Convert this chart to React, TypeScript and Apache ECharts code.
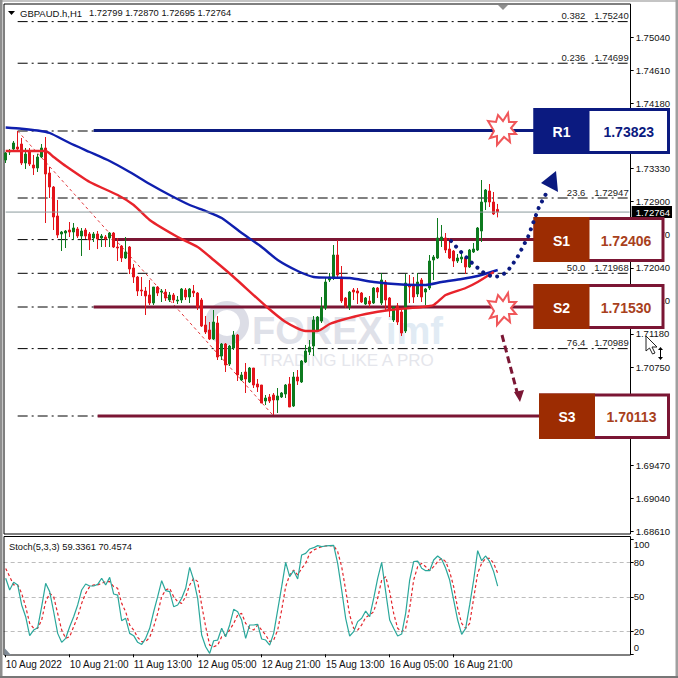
import { useEffect, useRef } from 'react';
import * as echarts from 'echarts';

/* ───── Data ───── */
const opens = [
  1.73441, 1.73545, 1.73584, 1.73610, 1.73649, 1.73402, 1.73545, 1.73376, 1.73337, 1.73480, 1.73597, 1.73272, 1.73090, 1.72713, 1.72479, 1.72492,
  1.72531, 1.72505, 1.72544, 1.72453, 1.72531, 1.72479, 1.72427, 1.72479, 1.72427, 1.72440, 1.72427, 1.72492, 1.72310, 1.72323, 1.72167, 1.72310,
  1.72037, 1.71920, 1.71751, 1.71738, 1.71686, 1.71582, 1.71790, 1.71725, 1.71725, 1.71621, 1.71686, 1.71608, 1.71621, 1.71751, 1.71660, 1.71738,
  1.71712, 1.71621, 1.71296, 1.71231, 1.71114, 1.71322, 1.70893, 1.71049, 1.70789, 1.70997, 1.71166, 1.70581, 1.70685, 1.70555, 1.70737, 1.70529,
  1.70516, 1.70308, 1.70360, 1.70386, 1.70321, 1.70360, 1.70399, 1.70529, 1.70243, 1.70620, 1.70555, 1.70815, 1.70945, 1.71023, 1.71218, 1.71348,
  1.71517, 1.71881, 1.71907, 1.72206, 1.71920, 1.71647, 1.71530, 1.71751, 1.71738, 1.71712, 1.71569, 1.71608, 1.71582, 1.71777, 1.71582, 1.71855,
  1.71647, 1.71361, 1.71543, 1.71465, 1.71218, 1.71816, 1.71816, 1.71699, 1.71881, 1.71725, 1.71777, 1.72141, 1.72167, 1.72401, 1.72427, 1.72284,
  1.72258, 1.72128, 1.72154, 1.72167, 1.72050, 1.72245, 1.72271, 1.72518, 1.72895, 1.73038, 1.72895, 1.72799,
];
const highs = [
  1.73545, 1.73584, 1.73688, 1.73818, 1.73727, 1.73597, 1.73597, 1.73506, 1.73519, 1.73649, 1.73740, 1.73350, 1.73103, 1.72921, 1.72518, 1.72531,
  1.72635, 1.72622, 1.72570, 1.72557, 1.72557, 1.72505, 1.72505, 1.72518, 1.72479, 1.72466, 1.72505, 1.72505, 1.72427, 1.72336, 1.72440, 1.72323,
  1.72089, 1.71933, 1.71920, 1.71790, 1.71881, 1.71790, 1.71803, 1.71764, 1.71764, 1.71725, 1.71712, 1.71673, 1.71777, 1.71777, 1.71777, 1.71816,
  1.71725, 1.71647, 1.71413, 1.71335, 1.71491, 1.71413, 1.71062, 1.71062, 1.71036, 1.71218, 1.71179, 1.70685, 1.70802, 1.70750, 1.70737, 1.70594,
  1.70516, 1.70386, 1.70399, 1.70412, 1.70477, 1.70425, 1.70529, 1.70620, 1.70685, 1.70711, 1.70841, 1.71036, 1.71101, 1.71413, 1.71413, 1.71660,
  1.71907, 1.71972, 1.72336, 1.72401, 1.72063, 1.71660, 1.71738, 1.71777, 1.71777, 1.71725, 1.71660, 1.71673, 1.71790, 1.71790, 1.71972, 1.71881,
  1.71660, 1.71543, 1.71582, 1.71491, 1.71959, 1.71946, 1.71920, 1.71972, 1.71907, 1.71777, 1.72206, 1.72206, 1.72687, 1.72596, 1.72492, 1.72427,
  1.72271, 1.72219, 1.72232, 1.72193, 1.72284, 1.72362, 1.72570, 1.73181, 1.73064, 1.73129, 1.73025, 1.72870,
];
const lows = [
  1.73402, 1.73506, 1.73558, 1.73558, 1.73376, 1.73324, 1.73363, 1.73246, 1.73285, 1.73467, 1.72622, 1.72947, 1.72531, 1.72427, 1.72258, 1.72297,
  1.72440, 1.72401, 1.72427, 1.72193, 1.72414, 1.72271, 1.72375, 1.72284, 1.72310, 1.72310, 1.72310, 1.72297, 1.72128, 1.72115, 1.72154, 1.71959,
  1.71842, 1.71673, 1.71673, 1.71426, 1.71556, 1.71556, 1.71673, 1.71595, 1.71608, 1.71595, 1.71582, 1.71569, 1.71582, 1.71621, 1.71582, 1.71660,
  1.71491, 1.71270, 1.71179, 1.71101, 1.71101, 1.70841, 1.70841, 1.70685, 1.70763, 1.70971, 1.70568, 1.70568, 1.70412, 1.70542, 1.70477, 1.70425,
  1.70282, 1.70256, 1.70282, 1.70126, 1.70152, 1.70347, 1.70347, 1.70230, 1.70230, 1.70516, 1.70542, 1.70802, 1.70906, 1.70893, 1.71205, 1.71322,
  1.71491, 1.71855, 1.71881, 1.71907, 1.71582, 1.71517, 1.71491, 1.71621, 1.71569, 1.71582, 1.71556, 1.71530, 1.71569, 1.71647, 1.71556, 1.71491,
  1.71400, 1.71335, 1.71296, 1.71153, 1.71192, 1.71582, 1.71582, 1.71660, 1.71595, 1.71556, 1.71751, 1.71881, 1.72154, 1.72310, 1.72232, 1.72154,
  1.72050, 1.72102, 1.72102, 1.71959, 1.72037, 1.72232, 1.72258, 1.72375, 1.72791, 1.72830, 1.72726, 1.72695,
];
const closes = [
  1.73532, 1.73558, 1.73662, 1.73584, 1.73402, 1.73519, 1.73389, 1.73337, 1.73480, 1.73597, 1.73259, 1.73090, 1.72700, 1.72466, 1.72505, 1.72518,
  1.72505, 1.72557, 1.72453, 1.72518, 1.72453, 1.72401, 1.72479, 1.72414, 1.72453, 1.72414, 1.72492, 1.72310, 1.72297, 1.72167, 1.72245, 1.72024,
  1.71920, 1.71738, 1.71738, 1.71673, 1.71582, 1.71790, 1.71712, 1.71738, 1.71647, 1.71686, 1.71621, 1.71621, 1.71764, 1.71660, 1.71764, 1.71712,
  1.71530, 1.71283, 1.71205, 1.71114, 1.71335, 1.70880, 1.71049, 1.70776, 1.71023, 1.71166, 1.70646, 1.70646, 1.70594, 1.70737, 1.70516, 1.70490,
  1.70282, 1.70347, 1.70308, 1.70321, 1.70373, 1.70412, 1.70516, 1.70230, 1.70620, 1.70568, 1.70828, 1.70958, 1.71010, 1.71361, 1.71400, 1.71530,
  1.71855, 1.71920, 1.72206, 1.71946, 1.71608, 1.71543, 1.71725, 1.71725, 1.71712, 1.71595, 1.71647, 1.71569, 1.71777, 1.71725, 1.71881, 1.71621,
  1.71491, 1.71530, 1.71335, 1.71192, 1.71842, 1.71790, 1.71660, 1.71855, 1.71660, 1.71764, 1.72128, 1.72180, 1.72427, 1.72440, 1.72271, 1.72167,
  1.72128, 1.72167, 1.72180, 1.72050, 1.72271, 1.72284, 1.72557, 1.72895, 1.73051, 1.72895, 1.72739, 1.72764,
];

// moving averages as bar index + price
const blueMaIdx = [0, 4, 8, 11, 16, 21, 26, 31, 36, 41, 46, 50, 54, 59, 64, 68, 73, 77, 82, 86, 92, 99, 105, 109, 114, 118, 123];
const blueMa = [1.73863, 1.73848, 1.73824, 1.73792, 1.73662, 1.73545, 1.73428, 1.73285, 1.73129, 1.72986, 1.72856, 1.72778, 1.72687, 1.72492, 1.72310, 1.72141, 1.71998, 1.71920, 1.71911, 1.71907, 1.71855, 1.71822, 1.71816, 1.71855, 1.71894, 1.71933, 1.72011];
const redMaIdx = [0, 10, 12, 15, 21, 28, 32, 36, 43, 48, 52, 57, 65, 70, 75, 78, 81, 84, 90, 96, 104, 107, 110, 115, 118, 122];
const redMa = [1.73558, 1.73558, 1.73480, 1.73363, 1.73155, 1.72986, 1.72856, 1.72661, 1.72440, 1.72310, 1.72141, 1.71920, 1.71543, 1.71335, 1.71218, 1.71218, 1.71309, 1.71361, 1.71439, 1.71491, 1.71530, 1.71556, 1.71686, 1.71777, 1.71855, 1.71985];

const stochMain = [
  66.1, 55.9, 62.6, 60.3, 42.9, 32.7, 16.2, 21.1, 23.1, 41.4, 61.7, 54.5, 37.0, 18.2, 10.4, 13.9,
  24.0, 32.7, 42.9, 55.9, 61.1, 59.4, 59.4, 60.8, 66.1, 60.3, 66.9, 52.4, 51.5, 29.2, 31.3, 18.2,
  16.2, 10.4, 8.6, 13.9, 22.6, 37.0, 50.1, 64.0, 55.3, 54.5, 41.4, 42.9, 48.7, 57.4, 75.6, 64.6,
  48.7, 16.8, 6.6, 0.8, 11.8, 12.4, 22.6, 15.3, 25.5, 39.1, 37.0, 29.8, 13.9, 25.5, 25.5, 26.0,
  13.3, 12.4, 8.0, 18.2, 38.5, 58.8, 80.0, 67.5, 72.7, 65.5, 86.4, 87.8, 91.6, 92.7, 94.5, 93.6,
  94.2, 94.5, 94.8, 79.1, 55.9, 31.3, 15.9, 19.7, 28.4, 31.3, 37.6, 32.7, 48.7, 66.1, 80.0, 54.5,
  29.8, 22.6, 15.9, 17.6, 35.6, 64.6, 80.6, 81.1, 74.8, 72.7, 72.7, 82.0, 85.5, 82.6, 74.8, 64.6,
  47.2, 29.8, 17.3, 22.6, 42.9, 64.6, 90.1, 81.4, 85.5, 80.6, 71.9, 59.3,
];
const stochSignal = [
  74.7, 67.5, 60.3, 60.3, 53.0, 41.4, 26.9, 22.6, 22.6, 29.8, 45.8, 53.0, 50.1, 35.6, 21.1, 13.9,
  15.3, 24.0, 32.7, 44.3, 53.0, 58.8, 60.3, 60.3, 61.7, 63.2, 63.2, 58.8, 57.4, 44.3, 37.0, 25.5,
  21.1, 14.7, 11.0, 11.0, 14.7, 24.0, 35.6, 50.1, 55.9, 57.4, 50.1, 45.8, 44.3, 50.1, 60.3, 66.1,
  63.2, 42.9, 24.0, 8.0, 6.6, 8.0, 15.3, 16.8, 21.1, 26.9, 34.2, 35.6, 26.9, 22.6, 21.1, 25.5,
  21.1, 16.8, 11.0, 12.4, 21.1, 38.5, 58.8, 69.0, 73.3, 69.0, 74.7, 79.1, 87.8, 90.7, 92.2, 93.6,
  94.2, 94.2, 94.5, 89.3, 76.2, 55.9, 34.2, 22.6, 21.1, 25.5, 32.1, 34.2, 37.0, 48.7, 64.6, 67.5,
  54.5, 35.6, 22.6, 19.7, 22.6, 40.0, 64.6, 76.2, 79.1, 76.2, 72.7, 76.2, 80.6, 83.5, 80.6, 71.9,
  58.8, 40.0, 26.9, 22.6, 26.9, 48.7, 70.4, 79.1, 83.5, 83.5, 79.1, 70.5,
];

const timeLabels = ['10 Aug 2022', '10 Aug 21:00', '11 Aug 13:00', '12 Aug 05:00', '12 Aug 21:00', '15 Aug 13:00', '16 Aug 05:00', '16 Aug 21:00'];
const priceTicks = [1.7504, 1.7461, 1.7418, 1.7333, 1.729, 1.7247, 1.7204, 1.7161, 1.7118, 1.7075, 1.6947, 1.6904, 1.6861];
const stochTicks = [0, 20, 50, 80, 100];

const fibLevels = [1.7524, 1.74699, 1.73818, 1.72947, 1.72406, 1.71968, 1.7153, 1.70989, 1.70113];
const fibNames = ['0.382', '0.236', '', '23.6', '', '50.0', '', '76.4', ''];

const levelNames = ['R1', 'S1', 'S2', 'S3'];
const levelPrices = [1.73823, 1.72406, 1.7153, 1.70113];
const levelStart = [22, 27, 22, 23];

const lastPrice = 1.72764;
const SLOTS = 157;

const FONT = '"Liberation Sans", Arial, sans-serif';
const NAVY = '#0b1a80';
const MAROON = '#7b1634';
const BROWN = '#9c2c02';

/* ───── Drawn annotations on top of the chart ───── */
function box(x: number, y: number, w: number, h: number, split: number, fill: string, edge: string, textCol: string, label: string, price: number) {
  return [
    { type: 'rect', z: 100, shape: { x: x + 1.5, y: y + 1.5, width: w - 3, height: h - 3 }, style: { fill: '#fff', stroke: edge, lineWidth: 3 } },
    { type: 'rect', z: 101, shape: { x, y, width: split, height: h }, style: { fill } },
    { type: 'text', z: 102, style: { text: label, x: x + split / 2, y: y + h / 2 + 1, fill: '#fff', font: `bold 14px ${FONT}`, textAlign: 'center', textVerticalAlign: 'middle' } },
    { type: 'text', z: 102, style: { text: price.toFixed(5), x: x + split + (w - split) / 2 - 1, y: y + h / 2 + 1, fill: textCol, font: `bold 14px ${FONT}`, textAlign: 'center', textVerticalAlign: 'middle' } },
  ];
}

const burstPoints = [[-14, -8], [-6, -7], [-4, -14], [1, -8], [6, -16], [7, -7], [14, -7], [9, -1], [14, 5], [7, 5], [8, 13], [2, 8], [-5, 16], [-5, 7], [-12, 9], [-8, 2]];
function burst(x: number, y: number) {
  return { type: 'polygon', z: 103, x, y, shape: { points: burstPoints }, style: { fill: '#fff', stroke: '#f0575a', lineWidth: 2, lineJoin: 'miter' } };
}

function buildGraphic() {
  return [
    // window chrome and panel frames
    { type: 'rect', z: 0, shape: { x: 0, y: 0, width: 678, height: 2 }, style: { fill: '#c4c4c4' } },
    { type: 'rect', z: 0, shape: { x: 0, y: 0, width: 2.5, height: 678 }, style: { fill: '#8e8e8e' } },
    { type: 'rect', z: 0, shape: { x: 675.5, y: 0, width: 2.5, height: 678 }, style: { fill: '#a0a0a0' } },
    { type: 'rect', z: 0, shape: { x: 0, y: 676, width: 678, height: 2 }, style: { fill: '#777' } },
    { type: 'rect', z: 1, shape: { x: 4, y: 4, width: 626.5, height: 530 }, style: { fill: 'none', stroke: '#000', lineWidth: 1 } },
    { type: 'rect', z: 1, shape: { x: 4, y: 536.5, width: 626.5, height: 118.5 }, style: { fill: 'none', stroke: '#000', lineWidth: 1 } },

    // watermark
    { type: 'ring', z: 0, shape: { cx: 227, cy: 323, r: 22, r0: 13 }, style: { fill: '#dcdde6' } },
    { type: 'text', z: 0, style: { text: 'FOREX', x: 252, y: 331, fill: '#dfe1e9', font: `bold 38px ${FONT}`, textAlign: 'left', textVerticalAlign: 'middle' } },
    { type: 'text', z: 0, style: { text: 'imf', x: 386, y: 331, fill: '#e1ebf4', font: `bold 38px ${FONT}`, textAlign: 'left', textVerticalAlign: 'middle' } },
    { type: 'text', z: 0, style: { text: 'TRADING LIKE A PRO', x: 260, y: 360, fill: '#e5e6ec', font: `17px ${FONT}`, textAlign: 'left', textVerticalAlign: 'middle' } },

    // title row
    { type: 'polygon', z: 90, shape: { points: [[8, 11], [15, 11], [11.5, 15]] }, style: { fill: '#000' } },
    { type: 'text', z: 90, style: { text: 'GBPAUD.h,H1', x: 20, y: 13, fill: '#111', font: `9.5px ${FONT}`, textAlign: 'left', textVerticalAlign: 'middle' } },
    { type: 'text', z: 90, style: { text: '1.72799 1.72870 1.72695 1.72764', x: 89, y: 13, fill: '#111', font: `9.3px ${FONT}`, textAlign: 'left', textVerticalAlign: 'middle' } },
    { type: 'text', z: 90, style: { text: 'Stoch(5,3,3) 59.3361 70.4574', x: 9, y: 547, fill: '#111', font: `9.3px ${FONT}`, textAlign: 'left', textVerticalAlign: 'middle' } },
    { type: 'polygon', z: 90, shape: { points: [[498, 5], [508, 5], [503, 10]] }, style: { fill: '#8f8f8f' } },
    { type: 'polygon', z: 90, shape: { points: [[4.5, 648], [4.5, 655], [11, 655]] }, style: { fill: '#7f8a96' } },

    // level boxes
    ...box(533.5, 108, 136.5, 46, 56, NAVY, NAVY, NAVY, levelNames[0], levelPrices[0]),
    ...box(533.5, 217, 131, 45, 56, BROWN, MAROON, '#a8401c', levelNames[1], levelPrices[1]),
    ...box(533.5, 284, 131, 45, 56, BROWN, MAROON, '#a8401c', levelNames[2], levelPrices[2]),
    ...box(539, 393.5, 131, 45.5, 56, BROWN, MAROON, '#a8401c', levelNames[3], levelPrices[3]),

    burst(502, 129),
    burst(502, 309),

    // dotted blue arrow
    { type: 'polyline', z: 104, shape: { points: [[451, 241], [462, 253], [473, 264], [484, 273], [493, 277], [500, 276], [507, 272], [517, 258], [528, 237], [539, 207], [547, 192]] }, style: { fill: 'none', stroke: NAVY, lineWidth: 4, lineCap: 'round', lineDash: [0.01, 7.5] } },
    { type: 'polygon', z: 104, shape: { points: [[556, 171], [541, 183], [558, 192]] }, style: { fill: NAVY } },

    // dashed maroon arrow
    { type: 'line', z: 104, shape: { x1: 502, y1: 335, x2: 517, y2: 392 }, style: { stroke: MAROON, lineWidth: 3, lineDash: [7, 4] } },
    { type: 'polygon', z: 104, shape: { points: [[514, 392], [524, 390], [520, 402]] }, style: { fill: MAROON } },

    // mouse pointer left in the screenshot
    { type: 'polygon', z: 110, shape: { points: [[646, 336], [646, 351], [649.5, 348], [652.5, 354], [655, 353], [652, 347], [657, 347]] }, style: { fill: '#fff', stroke: '#222', lineWidth: 1 } },
    { type: 'line', z: 110, shape: { x1: 660.5, y1: 349, x2: 660.5, y2: 358 }, style: { stroke: '#000', lineWidth: 1 } },
    { type: 'polygon', z: 110, shape: { points: [[658, 350], [663, 350], [660.5, 347]] }, style: { fill: '#000' } },
    { type: 'polygon', z: 110, shape: { points: [[658, 357], [663, 357], [660.5, 360]] }, style: { fill: '#000' } },
  ];
}

export default function App() {
  const ref = useRef<HTMLDivElement>(null);

  useEffect(() => {
    if (!ref.current) return;
    const chart = echarts.init(ref.current, undefined, { renderer: 'svg' });
    const cats = Array.from({ length: SLOTS }, (_, i) => String(i));
    const candles = opens.map((o, i) => [o, closes[i], lows[i], highs[i]]);
    const atLabel = (i: number) => i % 16 === 0 && i / 16 < timeLabels.length;

    // symbolSize 0 instead of symbol none, so that the point labels still draw
    const fibSeries = fibLevels.map((p, k) => ({
      type: 'line', xAxisIndex: 0, yAxisIndex: 0, silent: true, symbol: 'circle', symbolSize: 0, showSymbol: true, z: 2,
      lineStyle: { color: '#000', width: 1, type: [10, 4, 2, 4] },
      data: [
        [3, p],
        fibNames[k]
          ? { value: [156, p], label: {
              show: true, position: 'top', align: 'right', distance: 1,
              formatter: `{a|${fibNames[k]}}{b|${p.toFixed(5)}}`,
              rich: {
                a: { fontFamily: FONT, fontSize: 9.5, color: '#222' },
                b: { fontFamily: FONT, fontSize: 9.5, color: '#222', padding: [0, 1, 0, 9] },
              },
            } }
          : [156, p],
      ],
    }));

    const levelSeries = levelPrices.map((p, k) => ({
      type: 'line', xAxisIndex: 0, yAxisIndex: 0, silent: true, symbol: 'none', z: 3,
      lineStyle: { color: levelNames[k] === 'R1' ? NAVY : MAROON, width: 3 },
      data: [[levelStart[k], p], [135, p]],
    }));

    chart.setOption({
      animation: false,
      backgroundColor: '#fff',
      grid: [
        { left: 3.67, top: 4, width: 628, height: 530 },
        { left: 3.67, top: 539.3, width: 628, height: 115 },
      ],
      xAxis: [
        { type: 'category', gridIndex: 0, data: cats, axisLine: { show: false }, axisTick: { show: false }, axisLabel: { show: false }, splitLine: { show: false } },
        {
          type: 'category', gridIndex: 1, data: cats,
          axisLine: { show: false },
          axisTick: { show: true, alignWithLabel: true, length: 3, interval: (i: number) => atLabel(i), lineStyle: { color: '#000' } },
          axisLabel: {
            interval: (i: number) => atLabel(i),
            formatter: (_: string, i: number) => timeLabels[i / 16] ?? '',
            align: 'left', margin: 5, color: '#111', fontFamily: FONT, fontSize: 10, hideOverlap: false,
          },
          splitLine: { show: false },
        },
      ],
      yAxis: [
        {
          type: 'value', gridIndex: 0, position: 'right', offset: -1, min: 1.68579, max: 1.75469, scale: true,
          axisLine: { show: false },
          axisTick: { show: true, length: 3, customValues: priceTicks, lineStyle: { color: '#000' } },
          axisLabel: { customValues: priceTicks, margin: 5, color: '#111', fontFamily: FONT, fontSize: 9.5, formatter: (v: number) => v.toFixed(5) },
          splitLine: { show: false },
        },
        {
          type: 'value', gridIndex: 1, position: 'right', offset: -1, min: 0, max: 100,
          axisLine: { show: false },
          axisTick: { show: true, length: 3, customValues: stochTicks, lineStyle: { color: '#000' } },
          axisLabel: {
            customValues: [5.5, 20, 50, 80, 95.9], margin: 3, color: '#111', fontFamily: FONT, fontSize: 9.5,
            formatter: (v: number) => (v < 10 ? '0' : v > 90 ? '100' : String(v)),
          },
          splitLine: { show: true, showMinLine: false, showMaxLine: false, lineStyle: { color: '#bdbdbd', type: [4, 3] } },
        },
      ],
      graphic: { elements: buildGraphic() },
      series: [
        ...fibSeries,
        {
          type: 'line', xAxisIndex: 0, yAxisIndex: 0, silent: true, symbol: 'none', z: 2,
          lineStyle: { color: '#e2383c', width: 1, type: [3, 3] },
          data: [[3, fibLevels[2]], [67, fibLevels[8]]],
        },
        {
          type: 'line', xAxisIndex: 0, yAxisIndex: 0, silent: true, symbol: 'circle', symbolSize: 0, showSymbol: true, z: 6,
          lineStyle: { color: '#8b9a9d', width: 1 },
          data: [
            [0, lastPrice],
            { value: [156, lastPrice], label: {
              show: true, position: 'right', distance: 2, padding: [1, 2, 1, 4],
              backgroundColor: '#000', color: '#fff', fontFamily: FONT, fontSize: 9.5,
              formatter: lastPrice.toFixed(5),
            } },
          ],
        },
        ...levelSeries,
        {
          type: 'candlestick', xAxisIndex: 0, yAxisIndex: 0, silent: true, z: 4, barWidth: 2.8, data: candles,
          itemStyle: { color: '#0d7a1e', color0: '#e3141b', borderColor: '#0d7a1e', borderColor0: '#e3141b', borderWidth: 1 },
        },
        {
          type: 'line', xAxisIndex: 0, yAxisIndex: 0, silent: true, symbol: 'none', z: 5, smooth: 0.2,
          lineStyle: { color: '#0f1fae', width: 2.4 },
          data: blueMaIdx.map((x, i) => [x, blueMa[i]]),
        },
        {
          type: 'line', xAxisIndex: 0, yAxisIndex: 0, silent: true, symbol: 'none', z: 5, smooth: 0.2,
          lineStyle: { color: '#e8232b', width: 2.4 },
          data: redMaIdx.map((x, i) => [x, redMa[i]]),
        },
        {
          type: 'line', xAxisIndex: 1, yAxisIndex: 1, silent: true, symbol: 'none', z: 3,
          lineStyle: { color: '#e3262c', width: 1.2, type: [3, 2.5] },
          data: stochSignal,
        },
        {
          type: 'line', xAxisIndex: 1, yAxisIndex: 1, silent: true, symbol: 'none', z: 4,
          lineStyle: { color: '#2aa79b', width: 1.2 },
          data: stochMain,
        },
      ],
    });
    return () => { chart.dispose(); };
  }, []);

  return <div ref={ref} style={{ position: 'fixed', left: 0, top: 0, width: 678, height: 678 }} />;
}
